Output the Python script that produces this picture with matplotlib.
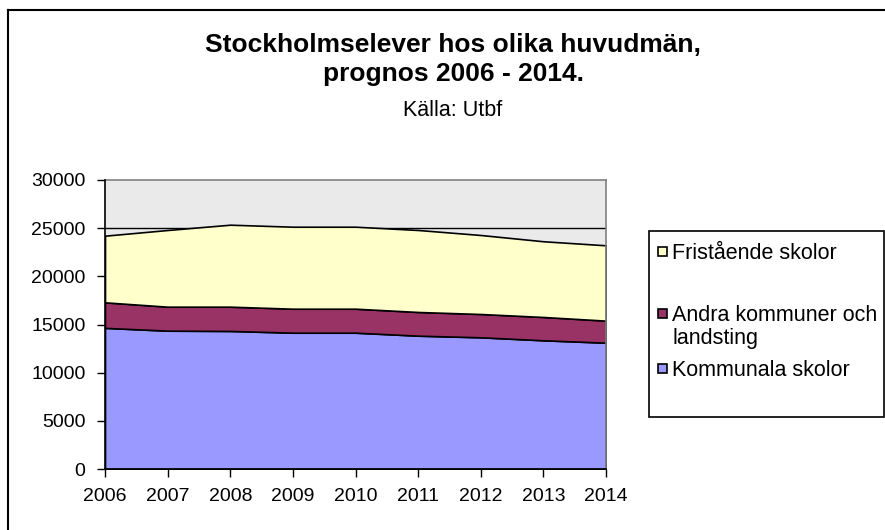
import matplotlib
matplotlib.use("Agg")
import matplotlib.pyplot as plt
from matplotlib.patches import Rectangle
from matplotlib.lines import Line2D

plt.rcParams['font.family'] = ['Liberation Sans', 'DejaVu Sans']

years = [2006, 2007, 2008, 2009, 2010, 2011, 2012, 2013, 2014]
kommunala = [14650, 14360, 14330, 14150, 14150, 13840, 13670, 13360, 13110]
andra = [2650, 2490, 2520, 2490, 2490, 2460, 2420, 2420, 2290]
fristaende = [6920, 7960, 8510, 8510, 8510, 8510, 8200, 7860, 7820]
labels = ["Kommunala skolor", "Andra kommuner och\nlandsting", "Fristående skolor"]
colors = ["#9999FF", "#993366", "#FFFFCC"]
yticks = [0, 5000, 10000, 15000, 20000, 25000, 30000]

W, H = 885, 530
fig = plt.figure(figsize=(W / 100, H / 100), dpi=100)
fig.patch.set_facecolor("white")

def fx(px):
    return px / W

def fy(py):
    return 1 - py / H

# chart border (top/left visible, rest outside image)
fig.add_artist(Line2D([fx(8), fx(8)], [0, fy(10)], color="black", lw=1.5, transform=fig.transFigure))
fig.add_artist(Line2D([fx(8), 1], [fy(10), fy(10)], color="black", lw=1.5, transform=fig.transFigure))

ax = fig.add_axes([fx(105), fy(469), (606 - 105) / W, (469 - 180) / H])
ax.set_facecolor("#EAEAEA")
for y in yticks[1:-1]:
    ax.axhline(y, color="black", lw=1, zorder=0.5)

ax.stackplot(years, kommunala, andra, fristaende, colors=colors,
             edgecolor="black", linewidth=1.2, zorder=2)

ax.set_xlim(2006, 2014)
ax.set_ylim(0, 30000)
ax.set_xticks(years)
ax.set_yticks(yticks)
ax.tick_params(axis="both", direction="out", length=6, width=1, labelsize=14, colors="black")
ax.tick_params(axis="x", pad=8)
ax.tick_params(axis="y", pad=8)
ax.spines["left"].set_color("black")
ax.spines["bottom"].set_color("black")
ax.spines["top"].set_color("#808080")
ax.spines["right"].set_color("#808080")
for s in ax.spines.values():
    s.set_linewidth(1.2)
ax.spines["left"].set_zorder(3)
ax.spines["bottom"].set_zorder(3)

tx = 453
fig.text(fx(tx), fy(52), "Stockholmselever hos olika huvudmän,", ha="center", va="baseline",
         fontsize=19, fontweight="bold")
fig.text(fx(tx), fy(81), "prognos 2006 - 2014.", ha="center", va="baseline",
         fontsize=19, fontweight="bold")
fig.text(fx(tx), fy(116), "Källa: Utbf", ha="center", va="baseline", fontsize=15.5)

# legend box
fig.add_artist(Rectangle((fx(649), fy(417)), (884 - 649) / W, (417 - 231) / H,
                         transform=fig.transFigure, facecolor="white", edgecolor="black", lw=1.2))
entries = [(2, 251), (1, 313), (0, 368)]
for idx, ypix in entries:
    fig.add_artist(Rectangle((fx(658), fy(ypix + 4.5)), 9 / W, 9 / H,
                             transform=fig.transFigure, facecolor=colors[idx],
                             edgecolor="black", lw=1.2))
    lines = labels[idx].split("\n")
    for k, line in enumerate(lines):
        fig.text(fx(672), fy(ypix + k * 23), line, ha="left", va="center_baseline", fontsize=15.5)

fig.savefig("out.png", dpi=100)
